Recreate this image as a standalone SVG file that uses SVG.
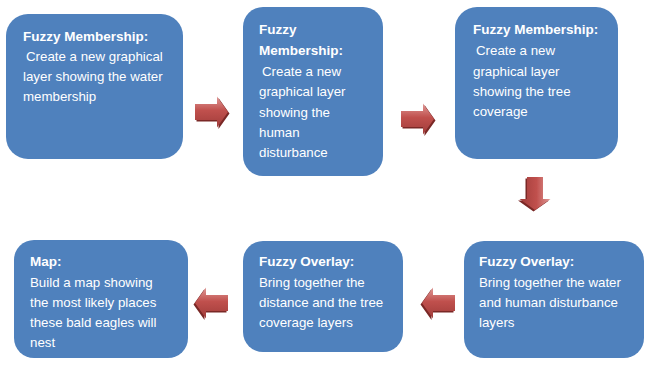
<svg xmlns="http://www.w3.org/2000/svg" width="658" height="375" viewBox="0 0 658 375">
<defs>
<style>
.box{fill:#4f81bd;}
.t{font-family:"Liberation Sans",Arial,sans-serif;font-size:13.3px;fill:#ffffff;}
.b{font-weight:bold;font-size:13.5px;}
</style>
<linearGradient id="ag" x1="0" y1="0" x2="0" y2="1">
<stop offset="0" stop-color="#e09a98"/>
<stop offset="0.45" stop-color="#c0504d"/>
<stop offset="1" stop-color="#a03c3a"/>
</linearGradient>
<g id="arrow">
<path d="M1.5,-6.5 H23.5 V-14 L34.5,1.5 L23.5,17 V9.5 H1.5 Z" fill="#7a2826"/>
<path d="M0,-8 H22 V-15.5 L33,0 L22,15.5 V8 H0 Z" fill="url(#ag)"/>
</g>
</defs>
<g id="connectors">
<use href="#arrow" transform="translate(195,112)"/>
<use href="#arrow" transform="translate(401,119)"/>
<use href="#arrow" transform="translate(535,177) rotate(90)"/>
<use href="#arrow" transform="translate(455,303) scale(-1,1)"/>
<use href="#arrow" transform="translate(228,303) scale(-1,1)"/>
</g>
<g id="node1">
<rect class="box" x="6" y="14" width="177" height="145" rx="22"/>
<text class="t b" x="23" y="41">Fuzzy Membership:</text>
<text class="t" x="26" y="61">Create a new graphical</text>
<text class="t" x="23" y="81">layer showing the water</text>
<text class="t" x="23" y="101">membership</text>
</g>
<g id="node2">
<rect class="box" x="243" y="7" width="140" height="169" rx="20"/>
<text class="t b" x="259" y="34">Fuzzy</text>
<text class="t b" x="259" y="55">Membership:</text>
<text class="t" x="262" y="76">Create a new</text>
<text class="t" x="259" y="96">graphical layer</text>
<text class="t" x="259" y="117">showing the</text>
<text class="t" x="259" y="137">human</text>
<text class="t" x="259" y="157">disturbance</text>
</g>
<g id="node3">
<rect class="box" x="455" y="7" width="163" height="152" rx="22"/>
<text class="t b" x="473" y="34">Fuzzy Membership:</text>
<text class="t" x="476" y="55">Create a new</text>
<text class="t" x="473" y="76">graphical layer</text>
<text class="t" x="473" y="96">showing the tree</text>
<text class="t" x="473" y="116">coverage</text>
</g>
<g id="node4">
<rect class="box" x="464" y="241" width="180" height="117" rx="20"/>
<text class="t b" x="479" y="266">Fuzzy Overlay:</text>
<text class="t" x="479" y="287">Bring together the water</text>
<text class="t" x="479" y="307">and human disturbance</text>
<text class="t" x="479" y="327">layers</text>
</g>
<g id="node5">
<rect class="box" x="243" y="241" width="160" height="111" rx="20"/>
<text class="t b" x="259" y="266">Fuzzy Overlay:</text>
<text class="t" x="259" y="287">Bring together the</text>
<text class="t" x="259" y="307">distance and the tree</text>
<text class="t" x="259" y="327">coverage layers</text>
</g>
<g id="node6">
<rect class="box" x="14" y="240" width="174" height="118" rx="20"/>
<text class="t b" x="30" y="266">Map:</text>
<text class="t" x="30" y="287">Build a map showing</text>
<text class="t" x="30" y="307">the most likely places</text>
<text class="t" x="30" y="327">these bald eagles will</text>
<text class="t" x="30" y="347">nest</text>
</g>
</svg>
